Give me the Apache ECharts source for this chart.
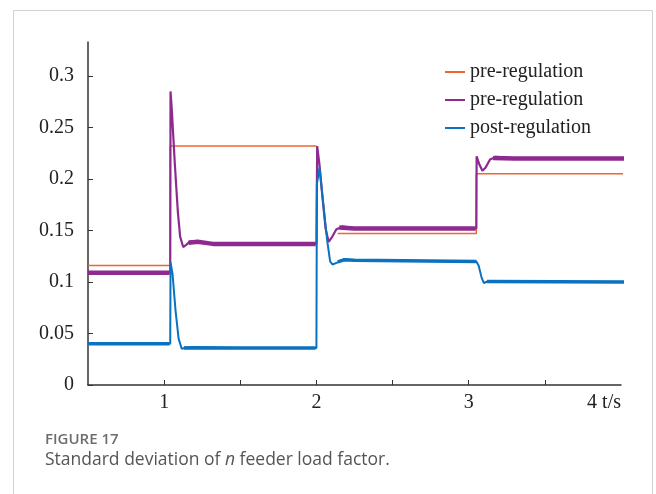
<!DOCTYPE html>
<html>
<head>
<meta charset="utf-8">
<style>
  html, body { margin: 0; padding: 0; background: #fff; }
  #chart { width: 656px; height: 494px; }
</style>
<script src="https://cdn.jsdelivr.net/npm/echarts@6/dist/echarts.min.js"></script>
</head>
<body>
<div id="chart"></div>
<script>
// Standard deviation of the feeder load factor over time (t in seconds)
const xTickValues = [1, 1.5, 2, 2.5, 3, 3.5];
const xLabelValues = [1, 2, 3, 4];
const yLabelValues = [0, 0.05, 0.1, 0.15, 0.2, 0.25, 0.3];

// Reference level before regulation (step signal)
const preStep = [
  [0.5, 0.116], [1.04, 0.116], [1.04, 0.232], [2.0, 0.232],
  [2.07, null],
  [2.14, 0.147], [3.05, 0.147], [3.05, 0.205], [4.04, 0.205]
];

// Measured response before regulation
const preMeasured = [
  [0.5, 0.109], [1.04, 0.109], [1.042, 0.285], [1.05, 0.268], [1.07, 0.215],
  [1.09, 0.168], [1.105, 0.144], [1.125, 0.134], [1.145, 0.136], [1.17, 0.1395],
  [1.22, 0.139], [1.32, 0.137], [2.0, 0.137], [2.005, 0.232], [2.02, 0.214],
  [2.04, 0.182], [2.06, 0.152], [2.08, 0.139], [2.1, 0.143], [2.13, 0.151],
  [2.17, 0.154], [2.25, 0.152], [3.05, 0.152], [3.052, 0.222], [3.07, 0.214],
  [3.09, 0.208], [3.11, 0.211], [3.14, 0.219], [3.18, 0.2215], [3.3, 0.22],
  [4.04, 0.22]
];

// Measured response after regulation
const postMeasured = [
  [0.5, 0.040], [1.04, 0.040], [1.042, 0.119], [1.055, 0.108], [1.075, 0.072],
  [1.095, 0.045], [1.116, 0.035], [1.14, 0.0365], [1.2, 0.037], [1.5, 0.036],
  [2.0, 0.036], [2.003, 0.195], [2.02, 0.211], [2.035, 0.19], [2.07, 0.141],
  [2.09, 0.12], [2.105, 0.117], [2.14, 0.119], [2.18, 0.122], [2.25, 0.121],
  [3.05, 0.120], [3.065, 0.116], [3.085, 0.104], [3.1, 0.099], [3.13, 0.101],
  [3.16, 0.1], [4.04, 0.100]
];

// Steady-state stretches, drawn as a wider trace to show the ripple band
const preBand = [
  [0.5, 0.109], [1.035, 0.109], [1.1, null],
  [1.16, 0.138], [1.22, 0.139], [1.32, 0.137], [1.995, 0.137], [2.05, null],
  [2.15, 0.153], [2.25, 0.152], [3.045, 0.152], [3.1, null],
  [3.16, 0.2205], [3.3, 0.22], [4.04, 0.22]
];
const postBand = [
  [0.5, 0.040], [1.035, 0.040], [1.1, null],
  [1.13, 0.036], [1.995, 0.036], [2.05, null],
  [2.14, 0.1195], [2.18, 0.1215], [2.25, 0.121], [3.05, 0.120], [3.08, null],
  [3.12, 0.1005], [4.04, 0.100]
];

const seriesNames = ['pre-regulation a', 'pre-regulation b', 'post-regulation'];
const colors = ['#F0642E', '#8E2A8F', '#0A72C0'];

const chart = echarts.init(document.getElementById('chart'), null, { renderer: 'canvas' });

const serif = 'Liberation Serif';

function lineSeries(name, data, color, width, z) {
  return {
    name: name,
    type: 'line',
    data: data,
    symbol: 'none',
    showSymbol: false,
    connectNulls: false,
    clip: false,
    animation: false,
    z: z,
    itemStyle: { color: color },
    lineStyle: { color: color, width: width, cap: 'butt', join: 'bevel' }
  };
}

chart.setOption({
  animation: false,
  backgroundColor: '#ffffff',
  grid: { left: 88, right: 35, top: 42, bottom: 109 },
  xAxis: {
    type: 'value',
    min: 0.5,
    max: 4,
    axisLine: { show: true, onZero: false, lineStyle: { color: '#333', width: 1.5 } },
    axisTick: {
      show: true, inside: true, length: 5,
      customValues: xTickValues,
      lineStyle: { color: '#333', width: 1 }
    },
    axisLabel: {
      customValues: xLabelValues,
      alignMaxLabel: 'right',
      margin: 8,
      fontFamily: serif,
      fontSize: 20,
      color: '#222',
      formatter: function (v) { return v === 4 ? '4 t/s' : String(v); }
    },
    splitLine: { show: false }
  },
  yAxis: {
    type: 'value',
    min: 0,
    max: 0.333,
    axisLine: { show: true, onZero: false, lineStyle: { color: '#333', width: 1.5 } },
    axisTick: {
      show: true, inside: true, length: 5,
      customValues: yLabelValues,
      lineStyle: { color: '#333', width: 1 }
    },
    axisLabel: {
      customValues: yLabelValues,
      margin: 14,
      fontFamily: serif,
      fontSize: 20,
      color: '#222',
      formatter: function (v) { return String(Math.round(v * 100) / 100); }
    },
    splitLine: { show: false }
  },
  legend: {
    data: seriesNames,
    left: 440,
    top: 57,
    orient: 'vertical',
    itemWidth: 20,
    itemHeight: 2,
    itemGap: 8,
    icon: 'rect',
    textStyle: { fontFamily: serif, fontSize: 20, color: '#222', lineHeight: 20 },
    formatter: function (name) { return name.replace(/ [ab]$/, ''); },
    selectedMode: false
  },
  graphic: [
    {
      type: 'rect',
      silent: true,
      shape: { x: 13.5, y: 10.5, width: 639, height: 500 },
      style: { fill: 'none', stroke: '#d2d2d2', lineWidth: 1 },
      z: -10
    },
    {
      type: 'text',
      left: 45,
      top: 432,
      style: { text: 'FIGURE 17', font: '600 15px "Open Sans"', fill: '#6d6d6d' }
    },
    {
      type: 'text',
      left: 45,
      top: 451,
      style: {
        text: '{r|Standard deviation of }{i|n}{r| feeder load factor.}',
        rich: {
          r: { font: '17.5px "Open Sans"', fill: '#555' },
          i: { font: 'italic 17.5px "Open Sans"', fill: '#555' }
        }
      }
    }
  ],
  series: [
    lineSeries(seriesNames[0], preStep, colors[0], 1.5, 2),
    lineSeries(seriesNames[1], preMeasured, colors[1], 2.2, 3),
    Object.assign(lineSeries('pre-regulation band', preBand, colors[1], 4.5, 3), { legendHoverLink: false }),
    lineSeries(seriesNames[2], postMeasured, colors[2], 2, 4),
    Object.assign(lineSeries('post-regulation band', postBand, colors[2], 3.5, 4), { legendHoverLink: false })
  ]
});
</script>
</body>
</html>
